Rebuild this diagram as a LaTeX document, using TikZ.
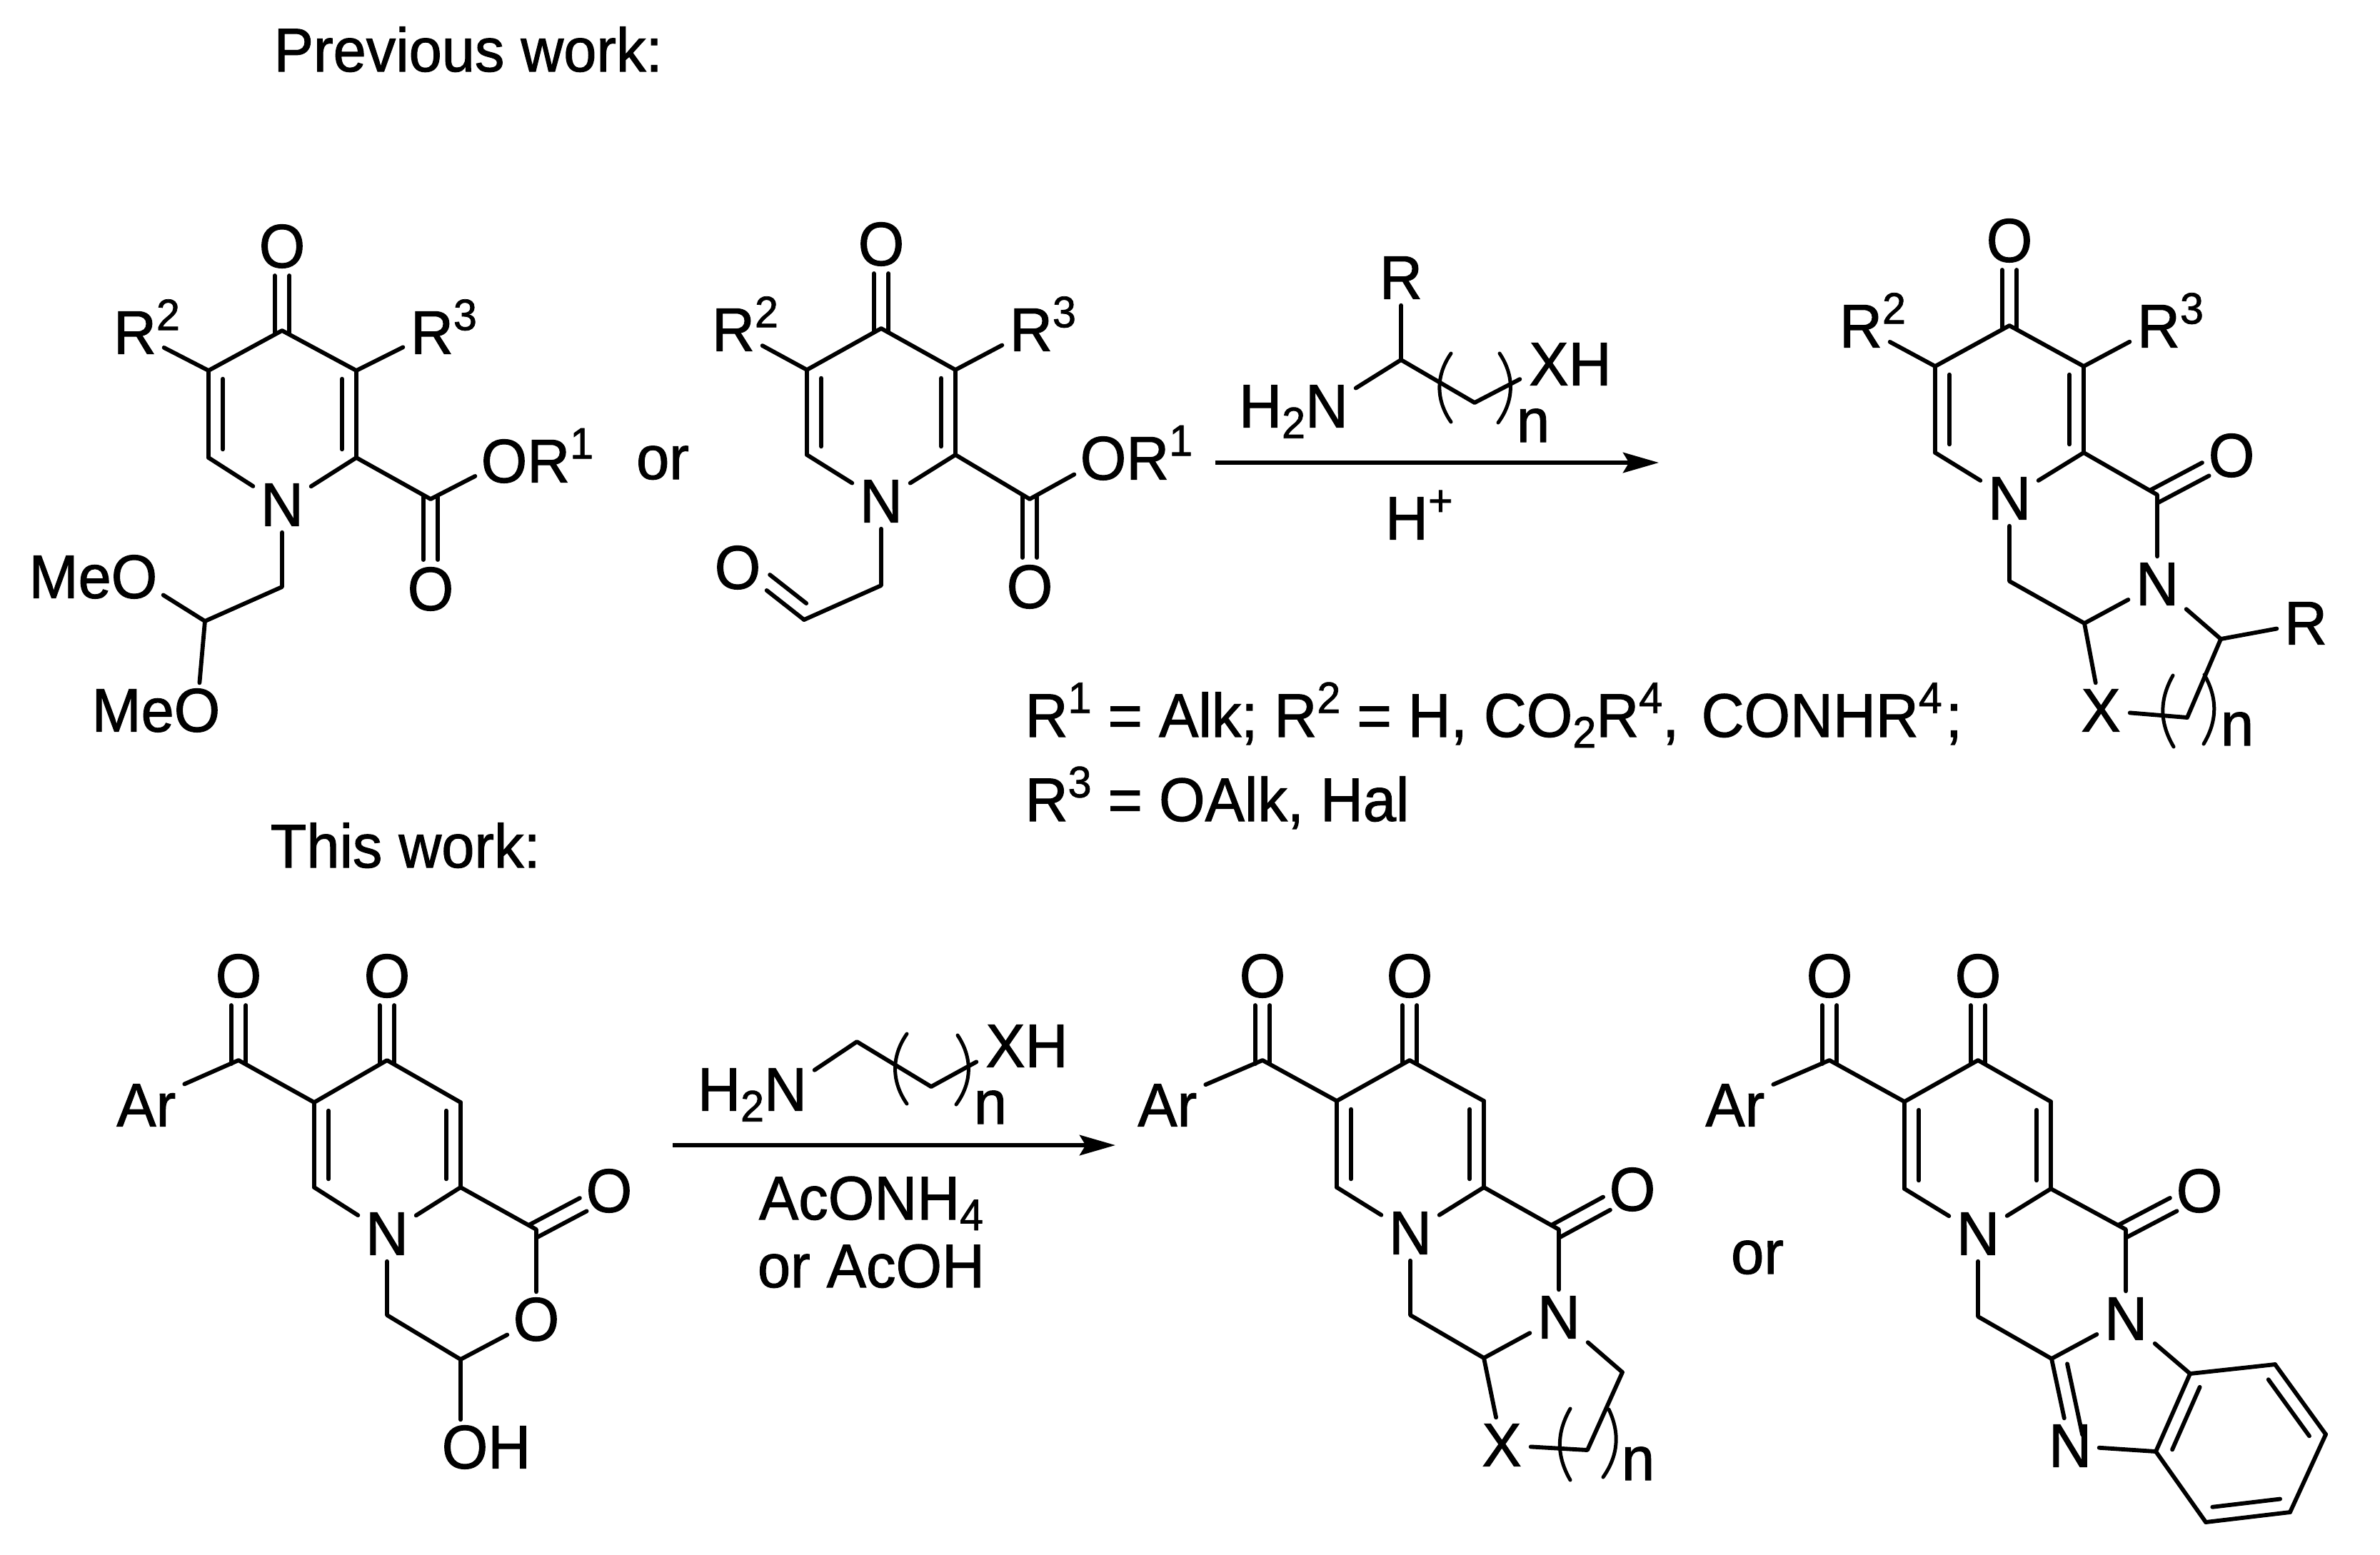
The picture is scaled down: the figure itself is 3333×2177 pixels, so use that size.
\documentclass[tikz,border=0pt]{standalone}
\usepackage{fontspec}
\setmainfont[FakeStretch=0.961,FakeBold=1.2]{Liberation Sans}
\usetikzlibrary{calc}
\usetikzlibrary{arrows.meta}
\newcommand{\supr}[1]{\raisebox{10pt}{\fontsize{18.5}{20}\selectfont #1}}
\newcommand{\subr}[1]{\raisebox{-4.5pt}{\fontsize{18.5}{20}\selectfont #1}}
\newcommand{\dbin}[3][3.5pt]{%
  \draw[bond] (#2) -- (#3);
  \draw[bond,shorten <=#1,shorten >=3.5pt] ($(#2)!6pt!90:(#3)$) -- ($(#3)!6pt!-90:(#2)$);}
\newcommand{\cdo}[2]{%
  \draw[bond,shorten <=-1.5pt,shorten >=12.3pt] ($(#1)!3.1pt!90:(#2)$) -- ($(#2)!3.1pt!-90:(#1)$);
  \draw[bond,shorten <=-1.5pt,shorten >=12.3pt] ($(#1)!3.1pt!-90:(#2)$) -- ($(#2)!3.1pt!90:(#1)$);}
\begin{document}
\begin{tikzpicture}[>={Stealth[length=15pt,width=8.5pt,inset=2.5pt]},x=0.3pt,y=-0.3pt,
    every node/.style={font=\fontsize{25.9}{28}\selectfont,inner sep=0pt},
    atom/.style={minimum width=24pt,minimum height=22.8pt,text height=17.8pt,text depth=0pt},
    aryl/.style={atom,minimum width=40pt},
    txt/.style={anchor=base west},
    mid/.style={anchor=base},
    bond/.style={line width=1.75pt,line cap=round,line join=round},
    paren/.style={line width=1.5pt,line cap=round}]
    \useasboundingbox (0,0) rectangle (3333,2177);
    \node[txt] (prev) at (383,100) {Previous work:};
    \node[txt] (this) at (378,1215) {This work:};
    \node[txt] (rone) at (1435,1032) {R\supr{1} = Alk; R\supr{2} = H, CO\subr{2}R\supr{4},\kern2.5pt{} CONHR\supr{4}\kern1.5pt;};
    \node[txt] (rtwo) at (1435,1150) {R\supr{3} = OAlk, Hal};
    \node[mid] (ora) at (928,671) {or};
    \node[mid] (orb) at (2461,1784) {or};

    \coordinate (a1) at (395,463);
    \coordinate (a2) at (292,519);
    \coordinate (a3) at (292,641);
    \coordinate (a4) at (499,641);
    \coordinate (a5) at (499,519);
    \coordinate (a6) at (603,699);
    \coordinate (a7) at (395,822);
    \coordinate (a8) at (287,870);
    \node[atom] (aO) at (395,345) {O};
    \node[atom] (aN) at (395,707) {N};
    \node[atom] (aE) at (706,646) {O\rlap{R\supr{1}}};
    \node[atom] (aEo) at (603,825) {O};
    \node[atom] (aRb) at (189,466) {R\rlap{\supr{2}}};
    \node[atom] (aRc) at (605,466) {R\rlap{\supr{3}}};
    \node[atom] (aMa) at (188,808) {\llap{Me}O};
    \node[atom] (aMb) at (276,995) {\llap{Me}O};
    \draw[bond] (aRb) -- (a2) -- (a1) -- (a5) -- (aRc);
    \dbin{a2}{a3}
    \dbin{a4}{a5}
    \draw[bond] (a3) -- (aN) -- (a4) -- (a6) -- (aE);
    \cdo{a1}{aO}
    \cdo{a6}{aEo}
    \draw[bond] (aN) -- (a7) -- (a8) -- (aMa);
    \draw[bond] (a8) -- (aMb);

    \coordinate (b1) at (1234,460);
    \coordinate (b2) at (1130,518);
    \coordinate (b3) at (1130,637);
    \coordinate (b4) at (1338,637);
    \coordinate (b5) at (1338,518);
    \coordinate (b6) at (1442,699);
    \coordinate (b7) at (1234,820);
    \coordinate (b8) at (1126,868);
    \node[atom] (bO) at (1234,342) {O};
    \node[atom] (bN) at (1234,702) {N};
    \node[atom] (bE) at (1545,642) {O\rlap{R\supr{1}}};
    \node[atom] (bEo) at (1442,822) {O};
    \node[atom] (bRb) at (1027,462) {R\rlap{\supr{2}}};
    \node[atom] (bRc) at (1444,462) {R\rlap{\supr{3}}};
    \node[atom] (bA) at (1033,795) {O};
    \draw[bond] (bRb) -- (b2) -- (b1) -- (b5) -- (bRc);
    \dbin{b2}{b3}
    \dbin{b4}{b5}
    \draw[bond] (b3) -- (bN) -- (b4) -- (b6) -- (bE);
    \cdo{b1}{bO}
    \cdo{b6}{bEo}
    \draw[bond] (bN) -- (b7) -- (b8);
    \dbin[12.5pt]{bA}{b8}

    \coordinate (g1) at (1962,504);
    \coordinate (g2) at (2065,564);
    \node[atom] (gR) at (1962,389) {R};
    \node[atom] (gN) at (1858,569) {\llap{H\subr{2}}N};
    \node[atom] (gX) at (2169,510) {X\rlap{H}};
    \node[mid] (gn) at (2147,619) {n};
    \draw[bond] (gR) -- (g1) -- (gN);
    \draw[bond] (g1) -- (g2) -- (gX);
    \draw[paren] (2032,495) to[bend right=35] (2032,591);
    \draw[paren] (2100,495) to[bend left=35] (2098,592);
    \coordinate (pa) at (1702,648);
    \coordinate (pb) at (2323,648);
    \draw[bond,->,line cap=butt] (pa) -- (pb);
    \node[atom] (gH) at (1970,726) {H\rlap{\supr{+}}};

    \coordinate (c1) at (2814,456);
    \coordinate (c2) at (2710,513);
    \coordinate (c3) at (2710,634);
    \coordinate (c4) at (2918,634);
    \coordinate (c5) at (2918,513);
    \coordinate (c6) at (3021,693);
    \coordinate (c7) at (2814,814);
    \coordinate (c8) at (2919,873);
    \coordinate (c9) at (3110,895);
    \coordinate (c10) at (3063,1005);
    \node[atom] (cO) at (2814,337) {O};
    \node[atom] (cN) at (2814,698) {N};
    \node[atom] (cOb) at (3125,638) {O};
    \node[atom] (cNb) at (3021,818) {N};
    \node[atom] (cRb) at (2606,457) {R\rlap{\supr{2}}};
    \node[atom] (cRc) at (3023,457) {R\rlap{\supr{3}}};
    \node[atom] (cR) at (3229,873) {R};
    \node[atom] (cX) at (2942,995) {X};
    \node[mid] (cn) at (3133,1044) {n};
    \draw[bond] (cRb) -- (c2) -- (c1) -- (c5) -- (cRc);
    \dbin{c2}{c3}
    \dbin{c4}{c5}
    \draw[bond] (c3) -- (cN) -- (c4) -- (c6) -- (cNb) -- (c8) -- (c7) -- (cN);
    \cdo{c1}{cO}
    \cdo{c6}{cOb}
    \draw[bond] (c8) -- (cX) -- (c10) -- (c9) -- (cNb);
    \draw[bond] (c9) -- (cR);
    \draw[paren] (3043,946) to[bend right=30] (3044,1046);
    \draw[paren] (3087,945) to[bend left=30] (3086,1042);

    \coordinate (d1) at (542,1485);
    \coordinate (d2) at (440,1544);
    \coordinate (d3) at (440,1663);
    \coordinate (d4) at (645,1663);
    \coordinate (d5) at (645,1544);
    \coordinate (d6) at (751,1722);
    \coordinate (d7) at (542,1842);
    \coordinate (d8) at (645,1904);
    \coordinate (d9) at (334,1485);
    \node[atom] (dOa) at (334,1367) {O};
    \node[atom] (dOb) at (542,1367) {O};
    \node[aryl] (dAr) at (191,1548) {A\rlap{r}};
    \node[atom] (dN) at (542,1728) {N};
    \node[atom] (dOc) at (853,1668) {O};
    \node[atom] (dOd) at (751,1848) {O};
    \node[atom] (dOH) at (651,2027) {O\rlap{H}};
    \draw[bond] (dAr) -- (d9) -- (d2) -- (d1) -- (d5);
    \dbin{d2}{d3}
    \dbin{d4}{d5}
    \draw[bond] (d3) -- (dN) -- (d4) -- (d6) -- (dOd) -- (d8) -- (d7) -- (dN);
    \cdo{d9}{dOa}
    \cdo{d1}{dOb}
    \cdo{d6}{dOc}
    \draw[bond] (d8) -- (d8 |- dOH.north);

    \coordinate (h1) at (1200,1459);
    \coordinate (h2) at (1304,1522);
    \node[atom] (hN) at (1100,1526) {\llap{H\subr{2}}N};
    \node[atom] (hX) at (1408,1465) {X\rlap{H}};
    \node[mid] (hn) at (1387,1574) {n};
    \draw[bond] (hN) -- (h1) -- (h2) -- (hX);
    \draw[paren] (1270,1448) to[bend right=35] (1270,1546);
    \draw[paren] (1341,1450) to[bend left=35] (1339,1547);
    \coordinate (qa) at (942,1604);
    \coordinate (qb) at (1562,1604);
    \draw[bond,->,line cap=butt] (qa) -- (qb);
    \node[mid] (hA) at (1220,1708) {AcONH\subr{4}};
    \node[mid] (hB) at (1220,1803) {or AcOH};

    \coordinate (e1) at (1974,1485);
    \coordinate (e2) at (1872,1542);
    \coordinate (e3) at (1872,1663);
    \coordinate (e4) at (2078,1663);
    \coordinate (e5) at (2078,1542);
    \coordinate (e6) at (2183,1722);
    \coordinate (e7) at (1975,1842);
    \coordinate (e8) at (2078,1902);
    \coordinate (e9) at (1768,1485);
    \coordinate (e10) at (2272,1922);
    \coordinate (e11) at (2223,2031);
    \node[atom] (eOa) at (1768,1367) {O};
    \node[atom] (eOb) at (1974,1367) {O};
    \node[aryl] (eAr) at (1621,1548) {A\rlap{r}};
    \node[atom] (eN) at (1975,1727) {N};
    \node[atom] (eOc) at (2286,1666) {O};
    \node[atom] (eNb) at (2183,1845) {N};
    \node[atom] (eX) at (2103,2024) {X};
    \node[mid] (en) at (2294,2073) {n};
    \draw[bond] (eAr) -- (e9) -- (e2) -- (e1) -- (e5);
    \dbin{e2}{e3}
    \dbin{e4}{e5}
    \draw[bond] (e3) -- (eN) -- (e4) -- (e6) -- (eNb) -- (e8) -- (e7) -- (eN);
    \cdo{e9}{eOa}
    \cdo{e1}{eOb}
    \cdo{e6}{eOc}
    \draw[bond] (e8) -- (eX) -- (e11) -- (e10) -- (eNb);
    \draw[paren] (2199,1973) to[bend right=30] (2199,2073);
    \draw[paren] (2253,1974) to[bend left=30] (2245,2069);

    \coordinate (f1) at (2770,1485);
    \coordinate (f2) at (2667,1543);
    \coordinate (f3) at (2667,1665);
    \coordinate (f4) at (2872,1665);
    \coordinate (f5) at (2872,1543);
    \coordinate (f6) at (2977,1722);
    \coordinate (f7) at (2770,1844);
    \coordinate (f8) at (2873,1903);
    \coordinate (f9) at (2562,1485);
    \coordinate (f10) at (3067,1924);
    \coordinate (f11) at (3019,2033);
    \coordinate (f12) at (3089,2132);
    \coordinate (f13) at (3207,2118);
    \coordinate (f14) at (3257,2009);
    \coordinate (f15) at (3186,1911);
    \node[atom] (fOa) at (2562,1367) {O};
    \node[atom] (fOb) at (2770,1367) {O};
    \node[aryl] (fAr) at (2416,1548) {A\rlap{r}};
    \node[atom] (fN) at (2770,1728) {N};
    \node[atom] (fOc) at (3080,1668) {O};
    \node[atom] (fNb) at (2977,1847) {N};
    \node[atom] (fNc) at (2899,2025) {N};
    \draw[bond] (fAr) -- (f9) -- (f2) -- (f1) -- (f5);
    \dbin{f2}{f3}
    \dbin{f4}{f5}
    \draw[bond] (f3) -- (fN) -- (f4) -- (f6) -- (fNb) -- (f8) -- (f7) -- (fN);
    \cdo{f9}{fOa}
    \cdo{f1}{fOb}
    \cdo{f6}{fOc}
    \dbin{f8}{fNc}
    \draw[bond] (fNb) -- (f10) -- (f15);
    \draw[bond] (fNc) -- (f11);
    \dbin{f10}{f11}
    \draw[bond] (f11) -- (f12);
    \dbin{f12}{f13}
    \draw[bond] (f13) -- (f14);
    \dbin{f14}{f15}
\end{tikzpicture}
\end{document}
